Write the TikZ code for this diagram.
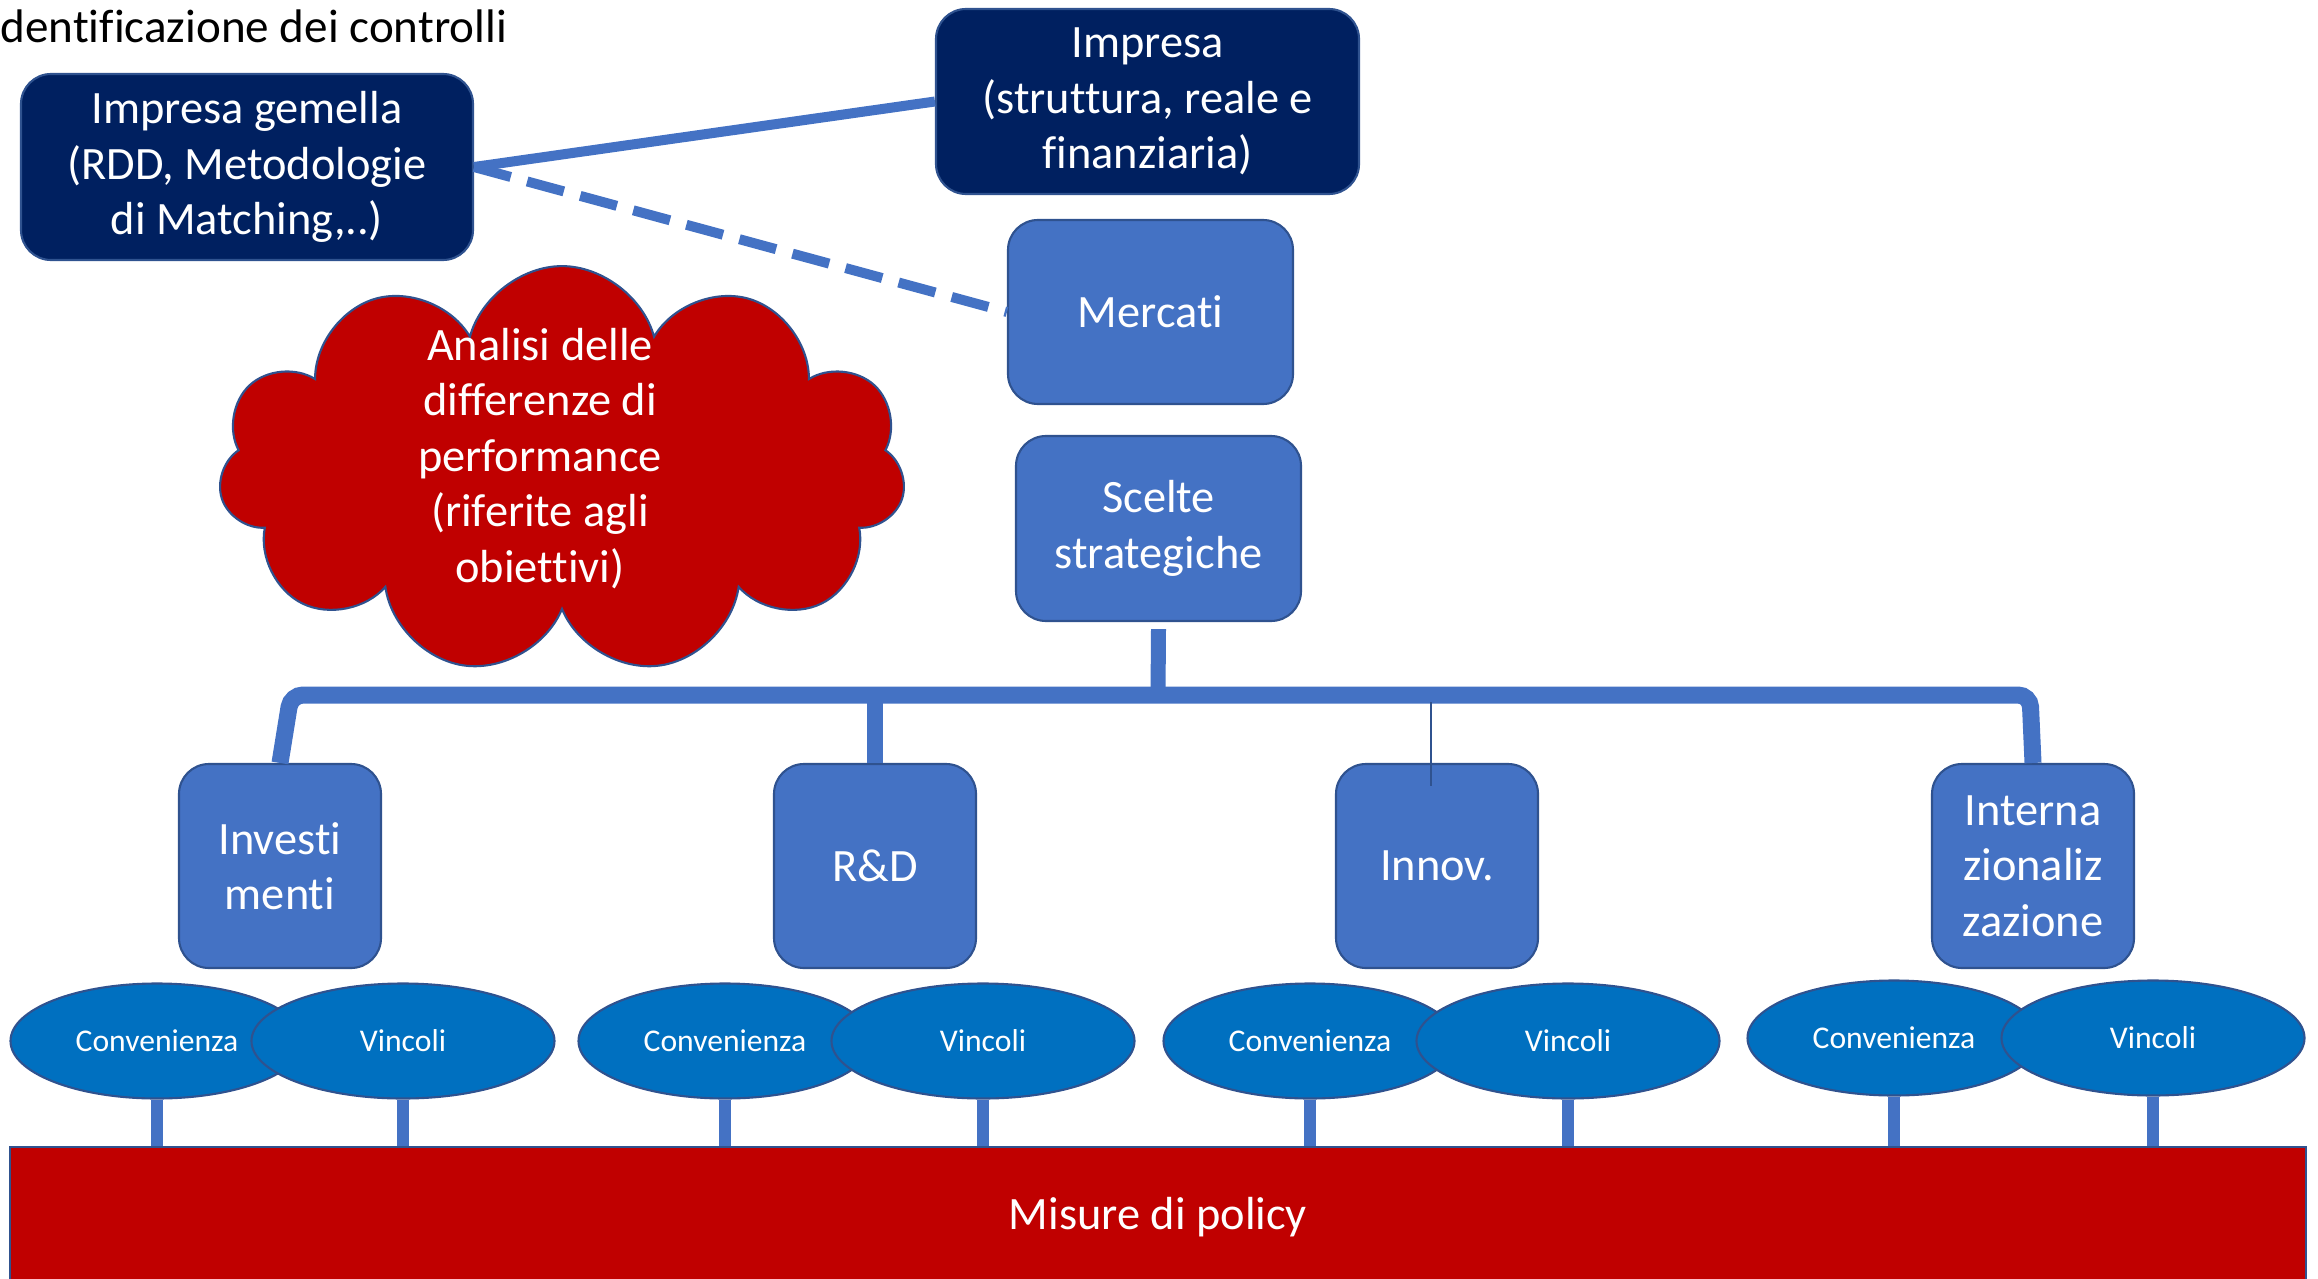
\documentclass[tikz,border=0pt]{standalone}
\usepackage{fontspec}
\setmainfont{Carlito}[Ligatures=NoCommon]
\usetikzlibrary{shapes.geometric,shapes.symbols}
\definecolor{navy}{HTML}{002060}
\definecolor{boxblue}{HTML}{4472C4}
\definecolor{edgeblue}{HTML}{2F528F}
\definecolor{ellblue}{HTML}{0070C0}
\definecolor{policyred}{HTML}{C00000}
\tikzset{
  bigtxt/.style={font=\fontsize{13.2}{15.8}\selectfont, text=white, align=center},
  darkbox/.style={bigtxt, draw=edgeblue, line width=0.6pt, fill=navy, rounded corners=0.3cm, inner sep=0pt},
  bluebox/.style={bigtxt, draw=edgeblue, line width=0.6pt, fill=boxblue, rounded corners=0.3cm, inner sep=0pt},
  oval/.style={ellipse, draw=edgeblue, line width=0.6pt, fill=ellblue, text=white, font=\fontsize{9}{11}\selectfont, minimum height=1.15cm, inner sep=0pt},
  link/.style={color=boxblue, line width=0.1cm},
}
\begin{document}
\begin{tikzpicture}
\useasboundingbox (0,0) rectangle (23.18,-12.79);

\node[anchor=west, inner sep=0pt, font=\fontsize{13.4}{15.8}\selectfont](title) at (0,-0.26) {dentificazione dei controlli};

\node[darkbox, minimum width=4.52cm, minimum height=1.86cm](gemella) at (2.47,-1.67) {Impresa gemella\\(RDD, Metodologie\\di Matching,..)};
\node[darkbox, minimum width=4.23cm, minimum height=1.85cm](impresa) at (11.475,-1.015) {Impresa\\(struttura, reale e\\finanziaria)};
\node[bluebox, minimum width=2.85cm, minimum height=1.84cm](mercati) at (11.505,-3.12) {Mercati};
\node[bluebox, minimum width=2.85cm, minimum height=1.85cm](scelte) at (11.585,-5.285) {Scelte\\strategiche};

\draw[link] (gemella.east) -- (impresa.west);
\draw[link, dash pattern=on 0.38cm off 0.17cm] (gemella.east) -- (mercati.west);

% nuvola: testo un po' a sinistra e in alto
\node[cloud, cloud puffs=11, aspect=1.69, draw=edgeblue, line width=0.6pt, fill=policyred, bigtxt, minimum width=6.87cm, minimum height=4.07cm, inner xsep=-0.2cm, inner ysep=-0.4cm](cloud) at (5.62,-4.70) {\begin{tabular}{@{}c@{\hspace{0.44cm}}}Analisi delle\\differenze di\\performance\\(riferite agli\\obiettivi)\\[0.2cm]\end{tabular}};

% le quattro scelte
\node[bluebox, minimum width=2.02cm, minimum height=2.04cm](inv) at (2.80,-8.66) {Investi\\menti};
\node[bluebox, minimum width=2.02cm, minimum height=2.04cm](rd) at (8.75,-8.66) {R\&D};
\node[bluebox, minimum width=2.02cm, minimum height=2.04cm](innov) at (14.37,-8.66) {Innov.};
\node[bluebox, minimum width=2.02cm, minimum height=2.04cm](intl) at (20.33,-8.66) {Interna\\zionaliz\\zazione};

\draw[link, line width=0.17cm, rounded corners=0.12cm] (inv.north) -- (2.91,-6.95) -- (20.30,-6.95) -- (intl.north);
\draw[link, line width=0.15cm] ([yshift=-0.07cm]scelte.south) -- (11.58,-6.95);
\draw[link, line width=0.16cm] (8.75,-6.95) -- (rd.north);
\draw[edgeblue, line width=0.8pt] (14.31,-7.02) -- (14.31,-7.86);

\node[oval, minimum width=2.93cm](conv1) at (1.57,-10.41) {Convenienza};
\node[oval, minimum width=3.03cm](vinc1) at (4.03,-10.41) {Vincoli};
\node[oval, minimum width=2.93cm](conv2) at (7.25,-10.41) {Convenienza};
\node[oval, minimum width=3.03cm](vinc2) at (9.83,-10.41) {Vincoli};
\node[oval, minimum width=2.93cm](conv3) at (13.10,-10.41) {Convenienza};
\node[oval, minimum width=3.03cm](vinc3) at (15.68,-10.41) {Vincoli};
\node[oval, minimum width=2.93cm](conv4) at (18.94,-10.38) {Convenienza};
\node[oval, minimum width=3.03cm](vinc4) at (21.53,-10.38) {Vincoli};

\node[bigtxt, draw=edgeblue, line width=0.6pt, fill=policyred, minimum width=22.96cm, minimum height=1.40cm, inner sep=0pt](policy) at (11.58,-12.17) {Misure di policy};

\draw[link, line width=0.12cm] (conv1.south) -- (conv1.south |- policy.north);
\draw[link, line width=0.12cm] (vinc1.south) -- (vinc1.south |- policy.north);
\draw[link, line width=0.12cm] (conv2.south) -- (conv2.south |- policy.north);
\draw[link, line width=0.12cm] (vinc2.south) -- (vinc2.south |- policy.north);
\draw[link, line width=0.12cm] (conv3.south) -- (conv3.south |- policy.north);
\draw[link, line width=0.12cm] (vinc3.south) -- (vinc3.south |- policy.north);
\draw[link, line width=0.12cm] (conv4.south) -- (conv4.south |- policy.north);
\draw[link, line width=0.12cm] (vinc4.south) -- (vinc4.south |- policy.north);

\end{tikzpicture}
\end{document}
